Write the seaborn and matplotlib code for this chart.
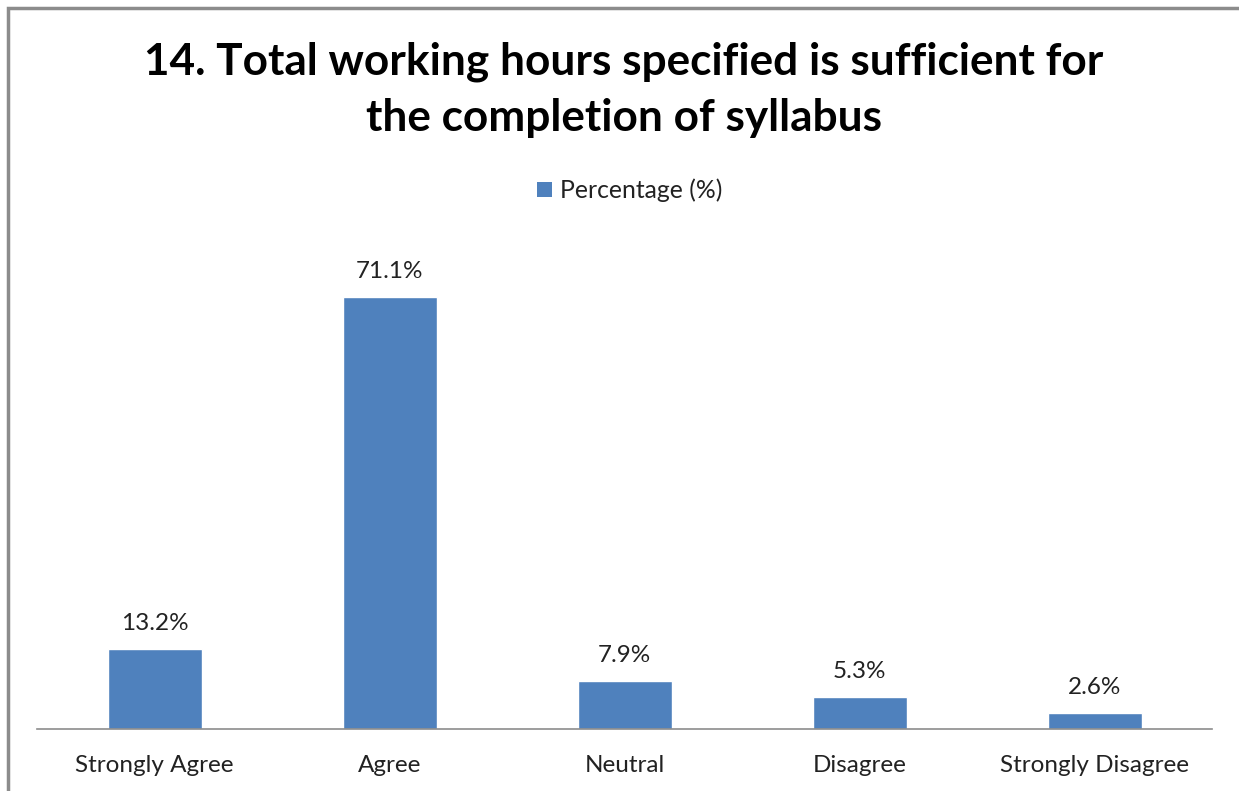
import matplotlib
matplotlib.use("Agg")
import matplotlib.pyplot as plt
import seaborn as sns
import pandas as pd
from matplotlib.patches import Rectangle

categories = ["Strongly Agree", "Agree", "Neutral", "Disagree", "Strongly Disagree"]
values = [13.2, 71.1, 7.9, 5.3, 2.6]
labels = ["13.2%", "71.1%", "7.9%", "5.3%", "2.6%"]
series_name = "Percentage (%)"
title = "14. Total working hours specified is sufficient for\nthe completion of syllabus"

sns.set_theme(style="white")
plt.rcParams['font.family'] = ['Lato', 'DejaVu Sans']

W, H = 1239, 791
fig = plt.figure(figsize=(W / 100, H / 100), dpi=100)
ax = fig.add_axes([37 / W, 1 - 729 / H, 1175 / W, 486 / H])

df = pd.DataFrame({"cat": categories, "val": values, "s": series_name})
sns.barplot(data=df, x="cat", y="val", hue="s", palette=["#4F81BD"], width=0.4,
            ax=ax, legend=False, saturation=1)
ax.set_ylim(0, 80)
ax.set_xlim(-0.5, 4.5)
for c in ax.containers:
    ax.bar_label(c, labels=labels, padding=11, fontsize=17.5, color="#222222")
ax.set_xlabel("")
ax.set_ylabel("")
ax.set_yticks([])
ax.tick_params(axis="x", length=0, pad=19, labelsize=17.5, labelcolor="#222222")
for s in ["top", "right", "left"]:
    ax.spines[s].set_visible(False)
ax.spines["bottom"].set_color("#8c8c8c")
ax.spines["bottom"].set_linewidth(1.2)

fig.text(624 / W, 1 - 90 / H, title, ha="center", va="center", fontsize=31.8,
         fontweight="bold", linespacing=1.5, color="black")

fig.patches.append(Rectangle((537 / W, 1 - 197 / H), 15 / W, 15 / H, transform=fig.transFigure,
                             facecolor="#4F81BD", edgecolor="none"))
fig.text(560 / W, 1 - 190 / H, series_name, ha="left", va="center", fontsize=17.8, color="#222222")

fig.patches.append(Rectangle((8 / W, -0.1), 1.2, 1 - 8 / H + 0.1, transform=fig.transFigure,
                             facecolor="none", edgecolor="#8c8c8c", linewidth=2.5))

fig.savefig("out.png", dpi=100)
